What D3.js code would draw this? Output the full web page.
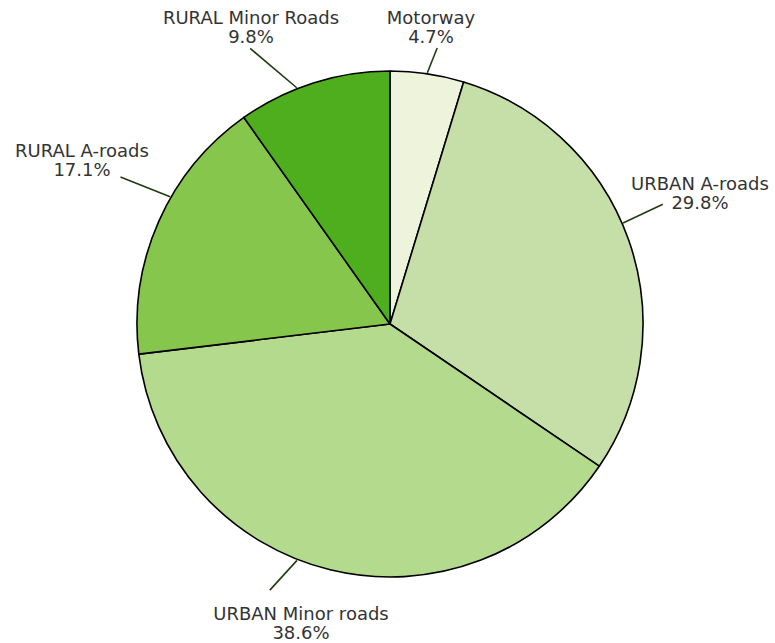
<!DOCTYPE html>
<html>
<head>
<meta charset="utf-8">
<script src="https://cdn.jsdelivr.net/npm/d3@7"></script>
<style>
  html, body { margin: 0; padding: 0; background: #fff; }
  svg { display: block; }
</style>
</head>
<body>
<svg id="chart" width="775" height="643"></svg>
<script>
// Road categories, clockwise from 12 o'clock, and their share (%)
const CATEGORIES = ['Motorway', 'URBAN A-roads', 'URBAN Minor roads', 'RURAL A-roads', 'RURAL Minor Roads'];
const SHARES = [4.7, 29.8, 38.6, 17.1, 9.8];
const SHARE_LABELS = ['4.7%', '29.8%', '38.6%', '17.1%', '9.8%'];

const COLORS = ['#eef4dc', '#c6dea8', '#b4da8e', '#86c64c', '#4eae1e'];

// Label placement: leader angle tweak (deg), leader end (angle deg, radius), text centre/baseline
const LABEL_LAYOUT = {
  'Motorway':          { leadA: 0,    endA: 9.7,   endR: 280, tx: 431, ty: 24 },
  'URBAN A-roads':     { leadA: -4,   endA: 66.3,  endR: 298, tx: 700, ty: 190 },
  'URBAN Minor roads': { leadA: 7.8,  endA: 204.3, endR: 292, tx: 301, ty: 620 },
  'RURAL A-roads':     { leadA: 6.1,  endA: 298.6, endR: 307, tx: 82,  ty: 157 },
  'RURAL Minor Roads': { leadA: -3.9, endA: 333.1, endR: 309, tx: 251, ty: 24 },
};

const CX = 390, CY = 324, R = 253;
const LINE_GAP = 19;

const svg = d3.select('#chart');
const data = CATEGORIES.map((c, i) => ({ name: c, value: SHARES[i], label: SHARE_LABELS[i], color: COLORS[i] }));

const pie = d3.pie().sort(null).value((d) => d.value);
const arc = d3.arc().innerRadius(0).outerRadius(R);
const arcs = pie(data);

const g = svg.append('g').attr('transform', `translate(${CX},${CY})`);

g.selectAll('path.slice')
  .data(arcs)
  .enter()
  .append('path')
  .attr('class', 'slice')
  .attr('d', arc)
  .attr('fill', (d) => d.data.color)
  .attr('stroke', '#000')
  .attr('stroke-width', 1.6)
  .attr('stroke-linejoin', 'round');

function polar(angDeg, r) {
  const a = (angDeg * Math.PI) / 180;
  return [r * Math.sin(a), -r * Math.cos(a)];
}

// leader lines from the rim outwards
arcs.forEach((d) => {
  const L = LABEL_LAYOUT[d.data.name];
  const mid = ((d.startAngle + d.endAngle) / 2) * 180 / Math.PI + L.leadA;
  const p0 = polar(mid, R + 1);
  const p1 = polar(L.endA, L.endR);
  g.append('line')
    .attr('x1', p0[0]).attr('y1', p0[1])
    .attr('x2', p1[0]).attr('y2', p1[1])
    .attr('stroke', '#1f3d10')
    .attr('stroke-width', 1.6);
});

const labels = svg.append('g')
  .attr('font-family', 'Verdana, "DejaVu Sans", sans-serif')
  .attr('font-size', '18px')
  .attr('fill', '#333')
  .attr('text-anchor', 'middle');

arcs.forEach((d) => {
  const L = LABEL_LAYOUT[d.data.name];
  labels.append('text').attr('x', L.tx).attr('y', L.ty).text(d.data.name);
  labels.append('text').attr('x', L.tx).attr('y', L.ty + LINE_GAP).text(d.data.label);
});
</script>
</body>
</html>
